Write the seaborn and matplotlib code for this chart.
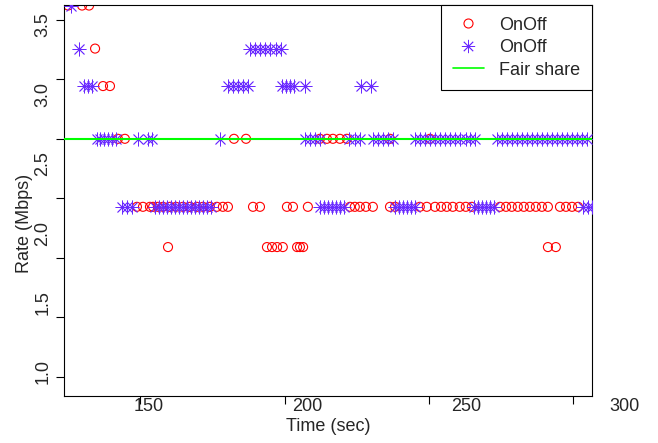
import matplotlib
matplotlib.use("Agg")
import matplotlib.pyplot as plt
from matplotlib.lines import Line2D
from matplotlib.transforms import blended_transform_factory
import pandas as pd
import seaborn as sns

# rate levels (Mbps) seen in the plot, top to bottom
rate_levels = [3.64, 3.33, 3.06, 2.68, 2.19, 1.90]

# flow 1 (red circles): sample times per rate level
onoff1_times = [
    [124.5, 128.9, 131.1],
    [133.0],
    [135.5, 137.7],
    [140.2, 142.4, 176.8, 180.6, 203.9, 206.1, 208.0, 210.2, 212.4, 226.0, 238.6],
    [146.2, 148.1, 150.3, 151.3, 152.8, 154.4, 156.6, 158.5, 160.7, 162.9,
     165.1, 167.0, 169.2, 171.4, 173.3, 174.9, 182.8, 185.0, 193.5, 195.4,
     200.1, 213.4, 214.9, 216.5, 218.4, 220.6, 226.0, 227.6, 235.4, 237.6,
     240.2, 242.1, 243.9, 245.8, 248.0, 249.9, 251.8, 260.7, 262.6, 264.4,
     266.3, 268.2, 270.1, 272.0, 273.9, 275.8, 279.6, 281.5, 283.4, 285.3],
    [156.0, 187.2, 188.8, 190.4, 192.2, 196.7, 197.6, 198.6, 275.8, 278.3],
]

# flow 2 (purple asterisks)
onoff2_times = [
    [125.3],
    [127.9, 181.8, 183.4, 185.0, 186.6, 188.2, 190.0, 191.6],
    [129.5, 130.8, 132.0, 174.9, 176.5, 178.1, 179.6, 181.2, 191.9, 193.2,
     194.5, 195.7, 199.2, 216.8, 220.0],
    [133.6, 134.6, 135.8, 137.1, 138.3, 139.6, 146.5, 149.6, 150.9, 172.4,
     199.2, 200.8, 202.3, 203.9, 213.1, 214.9, 216.5, 220.6, 222.2, 223.8,
     225.3, 226.9, 233.9, 235.4, 237.0, 238.6, 240.2, 241.7, 243.3, 244.9,
     246.5, 248.0, 249.9, 251.2, 252.8, 259.7, 261.3, 262.9, 264.4, 266.0,
     267.6, 269.2, 270.7, 272.3, 273.9, 275.5, 277.1, 278.6, 280.2, 281.8,
     283.4, 284.9, 286.5, 288.1],
    [141.5, 143.1, 144.6, 151.9, 153.2, 154.4, 155.7, 156.9, 158.2, 159.5,
     160.7, 162.0, 163.2, 164.5, 165.8, 167.0, 168.3, 169.5, 203.9, 205.2,
     206.4, 207.7, 208.9, 210.2, 211.5, 227.6, 228.8, 230.1, 231.3, 232.6,
     233.9, 252.5, 253.7, 255.0, 256.2, 257.5, 258.8, 286.8, 288.4, 289.7],
    [],
]

fair_share = 2.68

x_tick_labels = [150, 200, 250, 300]
y_tick_labels = [1.0, 1.5, 2.0, 2.5, 3.0, 3.5]
# where the tick marks sit (they do not line up with the labels)
x_tick_marks = [147.2, 192.9, 238.3, 283.7]
y_tick_marks = [0.966, 1.396, 1.824, 2.254, 2.681, 3.109, 3.536]


def to_frame(times):
    rows = []
    for level, ts in zip(rate_levels, times):
        for t in ts:
            rows.append((t, level))
    return pd.DataFrame(rows, columns=["time", "rate"])


df1 = to_frame(onoff1_times)
df2 = to_frame(onoff2_times)

sns.set_style("white")
plt.rcParams["font.family"] = ["Liberation Sans", "DejaVu Sans"]
FS = 13
RED = "#ff0000"
PURPLE = "#6a2aff"
GREEN = "#00ff00"
STAR = (8, 2, 0)

fig = plt.figure(figsize=(6.58, 4.43), dpi=100)
ax = fig.add_axes([64 / 658, 1 - 396 / 443, 528 / 658, 391 / 443])

sns.scatterplot(data=df1, x="time", y="rate", marker="o", s=42,
                color=RED, facecolors="none", edgecolor=RED, linewidth=0.8,
                legend=False, ax=ax, zorder=2)
sns.scatterplot(data=df2, x="time", y="rate", marker=STAR, s=90,
                color=PURPLE, linewidth=0.6, legend=False, ax=ax, zorder=3)
ax.axhline(fair_share, color=GREEN, lw=1.5, zorder=4)

ax.set_xlim(123.2, 289.7)
ax.set_ylim(0.827, 3.644)
ax.set_xticks(x_tick_marks)
ax.set_yticks(y_tick_marks)
ax.set_xticklabels([])
ax.set_yticklabels([])
ax.tick_params(direction="out", length=6, width=0.8, color="black",
               bottom=True, left=True)
for sp in ax.spines.values():
    sp.set_color("black")
    sp.set_linewidth(0.8)
ax.set_xlabel("")
ax.set_ylabel("")

tx = blended_transform_factory(ax.transData, ax.transAxes)
for v in x_tick_labels:
    ax.text(v, -0.005, f"{v}", transform=tx, ha="center", va="top",
            fontsize=FS, clip_on=False)
ty = blended_transform_factory(ax.transAxes, ax.transData)
for v in y_tick_labels:
    ax.text(-0.04, v, f"{v:.1f}", transform=ty, ha="center", va="center",
            rotation=90, fontsize=FS, clip_on=False)

ax.text(0.5, -0.079, "Time (sec)", transform=ax.transAxes, ha="center",
        va="center", fontsize=FS)
ax.text(-0.074, 0.442, "Rate (Mbps)", transform=ax.transAxes, ha="center",
        va="center", rotation=90, fontsize=FS)

handles = [
    Line2D([], [], ls="none", marker="o", mfc="none", mec=RED, ms=6.5, mew=0.8),
    Line2D([], [], ls="none", marker=STAR, color=PURPLE, ms=9.5, mew=0.6),
    Line2D([], [], color=GREEN, lw=1.2),
]
leg = ax.legend(handles, ["OnOff", "OnOff", "Fair share"], loc="upper right",
                bbox_to_anchor=(1, 1), borderaxespad=0, fontsize=FS,
                frameon=True, fancybox=False, framealpha=1, edgecolor="black",
                handlelength=1.7, handletextpad=0.85, labelspacing=0.3,
                borderpad=0.65)
leg.get_frame().set_linewidth(0.8)

fig.savefig("out.png", dpi=100)
